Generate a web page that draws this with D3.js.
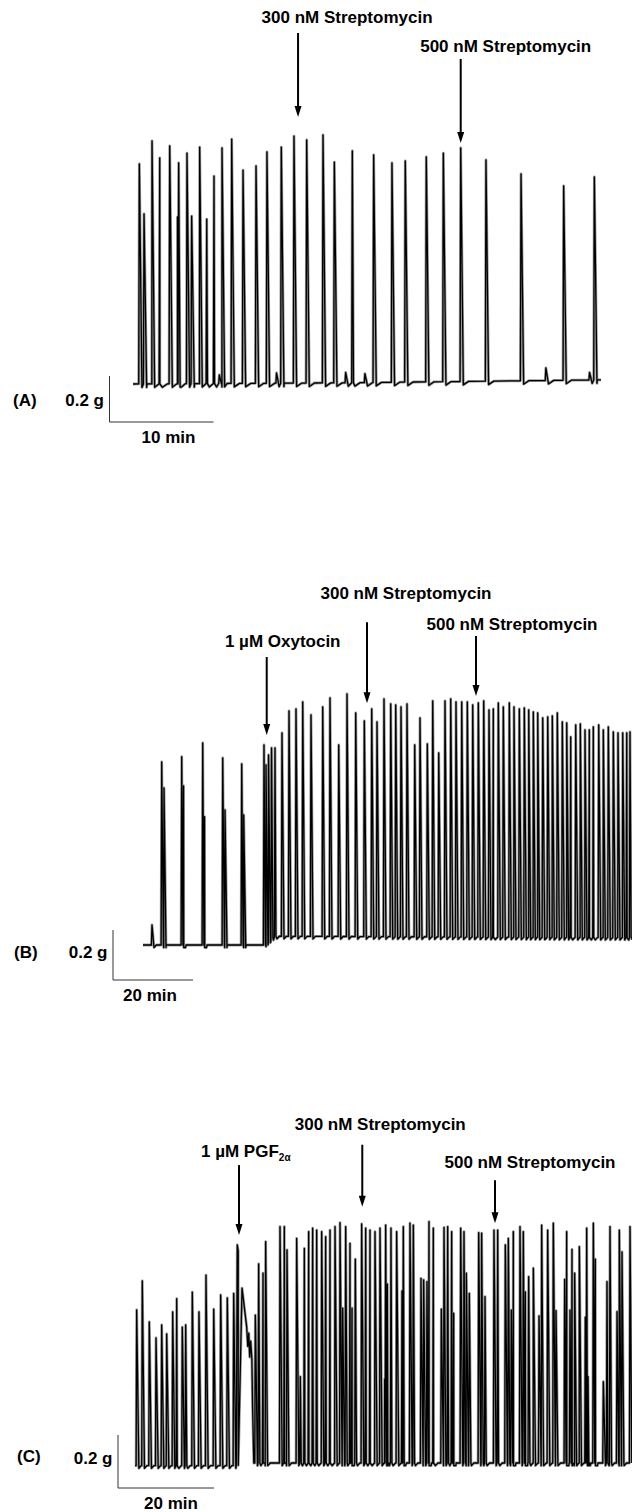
<!DOCTYPE html>
<meta charset="utf-8">
<style>
  body { margin: 0; background: #fff; }
  text { font-family: "Liberation Sans", Arial, sans-serif; font-weight: bold; font-size: 17px; fill: #000; }
</style>
<svg width="632" height="1512"></svg>
<script src="https://d3js.org/d3.v7.min.js"></script>
<script>
// ---- data: contraction peaks as [time (min), peak tension (g)] ----
var aSpikes = [[0.61,0.957],[1.06,0.74],[1.83,1.057],[2.57,0.983],[3.53,1.035],[4.28,0.726],[4.39,0.961],
  [5.19,1.004],[5.64,0.73],[6.41,1.03],[7.09,0.717],[7.79,0.904],[8.3,0.04],[8.56,1.026],[9.49,1.065],
  [10.58,0.93],[11.83,0.948],[12.88,1.009],[13.8,0.048],[14.26,1.03],[15.48,1.078],[16.7,1.061],
  [18.27,1.083],[19.36,0.965],[20.45,0.05],[21.09,1.013],[22.3,0.045],[23.14,0.996],[24.9,0.961],
  [26.18,0.97],[28.2,0.987],[29.84,1.004],[31.51,1.026],[33.94,0.974],[37.31,0.913],[39.7,0.07],
  [41.41,0.861],[43.9,0.05],[44.36,0.9]];
var aBaseline = [[0,0],[20,0.005],[45,0.018]];
var aDrugNames = ["300 nM Streptomycin", "500 nM Streptomycin"];
var aDrugMin = [15.87, 31.51];
var aDrugTip = [1.161, 1.048];

var bSpikes = [[2.25,0.08],[4.68,0.732],[5.25,0.628],[9.68,0.753],[10.13,0.636],[14.93,0.808],[15.38,0.513],
  [19.93,0.748],[20.5,0.54],[24.68,0.724],[25.18,0.52],
  [30.25,0.8],[30.75,0.72],[31.38,0.76],[32.13,0.788],[33,0.788],[34.75,0.848],[36.5,0.936],[38.25,0.944],
  [39.93,0.972],[42,0.92],[44.93,0.952],[46.75,0.988],[48.93,0.8],[51,1.004],[53.18,0.928],[55.33,0.896],
  [57.18,0.944],[58.5,0.892],[60.25,0.984],[61.93,0.964],[63.18,0.96],[64.5,0.952],[66,0.964],[67.93,0.8],
  [69.25,0.908],[71.08,0.804],[72.43,0.976],[73.93,0.768],[75.5,0.976],[76.93,0.984],[78.25,0.972],
  [79.68,0.972],[81.08,0.972],[82.43,0.96],[83.83,0.968],[85.18,0.976],[86.5,0.94],[87.58,0.944],
  [88.83,0.968],[90.08,0.952],[91.58,0.968],[92.75,0.952],[94.08,0.944],[95.33,0.948],[96.43,0.94],
  [97.58,0.932],[98.68,0.928],[99.93,0.908],[101.18,0.912],[102.33,0.916],[103.58,0.928],[104.83,0.892],
  [105.93,0.888],[106.93,0.832],[108.18,0.88],[109.33,0.884],[110.5,0.86],[111.58,0.86],[112.58,0.872],
  [113.93,0.88],[115.08,0.86],[116.33,0.872],[117.58,0.852],[118.75,0.848],[119.93,0.848],[120.93,0.848],
  [121.75,0.852]];
var bBaseline = [[0,0],[30.5,0],[33,0.035],[122.3,0.03]];
var bDrugNames = ["1 \u00b5M Oxytocin", "300 nM Streptomycin", "500 nM Streptomycin"];
var bDrugMin = [30.93, 56, 83.25];
var bDrugTip = [0.84, 0.967, 0.996];

var cSpikes = [[0.35,0.578],[1.52,0.687],[2.98,0.532],[4.38,0.472],[5.56,0.521],[6.6,0.487],[7.85,0.57],
  [8.69,0.62],[9.85,0.513],[10.56,0.521],[11.94,0.645],[13.33,0.57],[14.79,0.709],[16.4,0.581],
  [17.85,0.634],[19.23,0.623],[20.56,0.64],
  [25.07,0.558],[25.76,0.751],[26.67,0.716],[27.22,0.835],[30.21,0.892],[31.11,0.892],[31.67,0.804],
  [33.68,0.848],[34.44,0.326],[35.28,0.81],[36.18,0.873],[37.01,0.886],[37.85,0.879],[38.89,0.873],
  [39.72,0.854],[40.63,0.879],[41.67,0.892],[42.71,0.907],[43.26,0.584],[43.89,0.892],[44.79,0.829],
  [45.21,0.584],[45.9,0.769],[47.22,0.902],[48.06,0.886],[48.96,0.879],[50,0.873],[51.04,0.886],
  [52.01,0.316],[52.22,0.898],[52.57,0.675],[53.33,0.886],[54.51,0.873],[55.63,0.649],[55.9,0.892],
  [57.29,0.905],[57.99,0.898],[59.58,0.697],[60.14,0.691],[60.83,0.684],[61.25,0.911],[62.15,0.886],
  [63.82,0.581],[64.38,0.889],[65.14,0.892],[65.97,0.873],[66.39,0.565],[67.85,0.886],[68.54,0.873],
  [69.03,0.716],[69.65,0.64],[71.6,0.869],[72.22,0.867],[72.92,0.628],[74.79,0.879],[75.56,0.879],
  [77.15,0.823],[77.78,0.848],[78.4,0.577],[78.82,0.873],[80.21,0.892],[80.9,0.873],[81.32,0.646],
  [82.01,0.703],[82.99,0.735],[84.17,0.555],[84.72,0.898],[85.97,0.879],[87.15,0.905],[87.71,0.575],
  [89.51,0.693],[89.93,0.873],[90.63,0.577],[91.04,0.806],[91.6,0.716],[92.57,0.816],[93.82,0.55],
  [94.1,0.886],[94.38,0.326],[95.49,0.905],[95.9,0.769],[97.57,0.307],[98.33,0.684],[98.96,0.892],
  [100.42,0.571],[100.9,0.879],[101.46,0.797],[103.13,0.892]];
// PGF2a tonic response, read point by point
var cPgf = [[21.1,-0.01],[21.31,0.823],[21.5,0.8],[22.3,0.66],[23.27,0.513],[23.5,0.44],[23.7,0.49],
  [23.9,0.4],[24.1,0.46],[24.35,0.39],[24.5,0.21],[24.75,0]];
var cBaseline = [[0,-0.01],[21,-0.01],[25,0],[103.5,0]];
var cDrugNames = ["1 \u00b5M PGF", "300 nM Streptomycin", "500 nM Streptomycin"];
var cDrugMin = [21.67, 47.35, 75];
var cDrugTip = [0.86, 0.967, 0.905];

var svg = d3.select("svg");

function drawPanel(p) {
  var x = d3.scaleLinear().domain([0, p.end]).range([p.x0, p.x0 + p.end * p.pxMin]);
  var y = d3.scaleLinear().domain([0, 1]).range([p.y0, p.y0 - p.pxG]);
  var base = d3.scaleLinear()
      .domain(p.baseline.map(function(d) { return d[0]; }))
      .range(p.baseline.map(function(d) { return d[1]; }))
      .clamp(true);

  var pts = [[0, base(0)], [p.end, base(p.end)]];
  p.spikes.forEach(function(s) {
    var t = s[0];
    pts.push([t - p.rise, base(t - p.rise)], [t, s[1]],
             [t + p.fall, base(t + p.fall) - p.dip], [t + p.fall + p.rec, base(t + p.fall + p.rec)]);
  });
  (p.extra || []).forEach(function(d) { pts.push(d); });
  pts = pts.filter(function(d) { return d[0] >= 0 && d[0] <= p.end; })
           .sort(function(a, b) { return a[0] - b[0]; });

  var line = d3.line().x(function(d) { return x(d[0]); }).y(function(d) { return y(d[1]); });

  // scanned-trace look: grey halo under a black core
  svg.append("path")
      .attr("d", line(pts))
      .attr("fill", "none")
      .attr("stroke", "#9a9a9a")
      .attr("stroke-width", 2.8)
      .attr("stroke-linejoin", "round");
  svg.append("path")
      .attr("d", line(pts))
      .attr("fill", "none")
      .attr("stroke", "#000")
      .attr("stroke-width", 1.3)
      .attr("stroke-linejoin", "round");

  // drug arrows + labels
  p.drugMin.forEach(function(t, i) {
    var ax = x(t), tip = y(p.drugTip[i]), top = tip - p.arrowLen[i];
    svg.append("line").attr("x1", ax).attr("x2", ax).attr("y1", top).attr("y2", tip - 8)
        .attr("stroke", "#000").attr("stroke-width", 2);
    svg.append("path").attr("d", "M" + (ax - 3.5) + "," + (tip - 11) + "L" + (ax + 3.5) + "," + (tip - 11) + "L" + ax + "," + tip + "Z");
    var txt = svg.append("text")
        .attr("x", ax + p.textDx[i]).attr("y", top - p.textDy[i])
        .attr("text-anchor", p.anchor[i])
        .text(p.drugNames[i]);
    if (p.sub && i === 0) {
      txt.append("tspan").attr("dy", 4).style("font-size", "10px").text("2\u03b1");
    }
  });

  // scale bars
  var bx = p.barX, by = p.barY;
  var vLen = y(0) - y(0.2), hLen = x(p.barMin) - x(0);
  svg.append("path")
      .attr("d", "M" + bx + "," + (by - vLen) + "V" + by + "H" + (bx + hLen))
      .attr("fill", "none").attr("stroke", "#333").attr("stroke-width", 1);
  svg.append("text").attr("x", bx - 5.5).attr("y", p.gLabelY).attr("text-anchor", "end").text("0.2 g");
  svg.append("text").attr("x", bx + hLen / 2 + p.minDx).attr("y", by + 21).attr("text-anchor", "middle").text(p.barMin + " min");
  svg.append("text").attr("x", p.tagX).attr("y", p.tagY).text(p.tag);
}

drawPanel({
  spikes: aSpikes, baseline: aBaseline, end: 45,
  x0: 133, pxMin: 10.4, y0: 384, pxG: 230, rise: 0.06, fall: 0.25, dip: 0.015, rec: 0.5,
  drugNames: aDrugNames, drugMin: aDrugMin, drugTip: aDrugTip,
  arrowLen: [84, 84], textDx: [49, 45], textDy: [10, 7], anchor: ["middle", "middle"],
  barX: 109.5, barY: 422, barMin: 10, minDx: 7, gLabelY: 406, tag: "(A)", tagX: 13, tagY: 406
});

drawPanel({
  spikes: bSpikes, baseline: bBaseline, end: 122.25,
  x0: 143, pxMin: 4, y0: 945, pxG: 250, rise: 0.15, fall: 0.5, dip: 0.01, rec: 0.6,
  drugNames: bDrugNames, drugMin: bDrugMin, drugTip: bDrugTip,
  arrowLen: [78, 81, 60], textDx: [16, 39, 36], textDy: [10, 23, 6], anchor: ["middle", "middle", "middle"],
  barX: 113, barY: 980, barMin: 20, minDx: -3, gLabelY: 958, tag: "(B)", tagX: 14, tagY: 958
});

drawPanel({
  spikes: cSpikes, baseline: cBaseline, extra: cPgf, end: 103.5,
  x0: 135, pxMin: 4.8, y0: 1463, pxG: 265, rise: 0.12, fall: 0.45, dip: 0.01, rec: 0.5,
  drugNames: cDrugNames, drugMin: cDrugMin, drugTip: cDrugTip, sub: true,
  arrowLen: [70, 62, 43], textDx: [-38, 18, 35], textDy: [8, 15, 12], anchor: ["start", "middle", "middle"],
  barX: 118, barY: 1488, barMin: 20, minDx: 5, gLabelY: 1464, tag: "(C)", tagX: 17, tagY: 1462
});
</script>
